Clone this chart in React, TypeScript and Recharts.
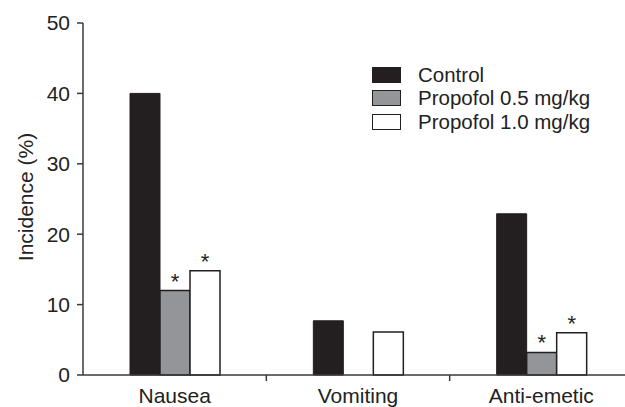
import React from 'react';
import { BarChart, Bar, XAxis, YAxis, LabelList } from 'recharts';

const categories = ['Nausea', 'Vomiting', 'Anti-emetic'];
const control = [40, 7.7, 22.9];
const propofol05 = [12, 0, 3.2];
const propofol10 = [14.8, 6.1, 6.0];
// asterisk = significant vs control
const sig05 = [true, false, true];
const sig10 = [true, false, true];
const yTicks = [0, 10, 20, 30, 40, 50];

const FONT = '"Liberation Sans", Arial, Helvetica, sans-serif';
const INK = '#231f20';
const AXIS = '#3a3a3a';
const GRAY = '#939598';

const data = categories.map((name, i) => ({
  name,
  control: control[i],
  p05: propofol05[i],
  p10: propofol10[i],
  p05Star: sig05[i] ? '*' : '',
  p10Star: sig10[i] ? '*' : '',
}));

const legendItems = [
  { label: 'Control', fill: INK },
  { label: 'Propofol 0.5 mg/kg', fill: GRAY },
  { label: 'Propofol 1.0 mg/kg', fill: '#ffffff' },
];

const CategoryTick = (props: any) => {
  const { x, y, payload } = props;
  const edge = x + (payload.offset || 0);
  return (
    <g>
      <line x1={edge} x2={edge} y1={y - 8} y2={y - 2} stroke={AXIS} strokeWidth={1.5} />
      <text x={x} y={y + 20} textAnchor="middle" fill="#222" fontSize={21} fontFamily={FONT}>
        {payload.value}
      </text>
    </g>
  );
};

const Star = (props: any) => {
  const { x, y, width, value } = props;
  if (!value) return null;
  return (
    <text x={x + width / 2} y={y - 2} textAnchor="middle" fill="#222" fontSize={22} fontFamily={FONT}>
      {value}
    </text>
  );
};

const LegendBox = () => (
  <div style={{ position: 'absolute', left: 372, top: 63, fontFamily: FONT, fontSize: 20.5, color: '#222' }}>
    {legendItems.map((it) => (
      <div key={it.label} style={{ display: 'flex', alignItems: 'center', height: 23.5 }}>
        <span
          style={{
            display: 'inline-block',
            width: 27,
            height: 14,
            background: it.fill,
            border: `1.5px solid ${INK}`,
            marginRight: 17,
          }}
        />
        <span style={{ whiteSpace: 'nowrap' }}>{it.label}</span>
      </div>
    ))}
  </div>
);

export default function App() {
  return (
    <div style={{ position: 'absolute', left: 0, top: 0, width: 625, height: 407, overflow: 'hidden', background: '#fff' }}>
      <BarChart
        width={645}
        height={407}
        data={data}
        margin={{ top: 23, right: 12, left: 23, bottom: 2 }}
        barSize={30}
        barGap={0}
      >
        <XAxis
          dataKey="name"
          height={30}
          stroke={AXIS}
          strokeWidth={1.5}
          tickLine={false}
          tick={<CategoryTick />}
          interval={0}
        />
        <YAxis
          width={60}
          domain={[0, 50]}
          ticks={yTicks}
          stroke={AXIS}
          strokeWidth={1.5}
          tickSize={6}
          tickMargin={7}
          tick={{ fontSize: 21, fontFamily: FONT, fill: '#222' }}
          label={({ viewBox }: any) => {
            const cx = viewBox.x + 10;
            const cy = viewBox.y + viewBox.height / 2 - 2;
            return (
              <text
                x={cx}
                y={cy}
                transform={`rotate(-90, ${cx}, ${cy})`}
                textAnchor="middle"
                fill="#222"
                fontSize={21}
                fontFamily={FONT}
              >
                Incidence (%)
              </text>
            );
          }}
        />
        <Bar dataKey="control" name="Control" fill={INK} stroke={INK} strokeWidth={1} isAnimationActive={false} />
        <Bar dataKey="p05" name="Propofol 0.5 mg/kg" fill={GRAY} stroke={INK} strokeWidth={1.5} isAnimationActive={false}>
          <LabelList dataKey="p05Star" content={<Star />} />
        </Bar>
        <Bar dataKey="p10" name="Propofol 1.0 mg/kg" fill="#ffffff" stroke={INK} strokeWidth={1.5} isAnimationActive={false}>
          <LabelList dataKey="p10Star" content={<Star />} />
        </Bar>
      </BarChart>
      <LegendBox />
    </div>
  );
}
